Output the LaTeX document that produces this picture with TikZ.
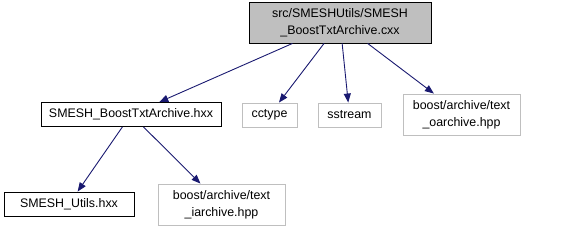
\documentclass[tikz,border=0pt]{standalone}
\usepackage{fontspec}
\setmainfont{Liberation Sans}
\usetikzlibrary{arrows.meta}
\definecolor{kenarKoyu}{HTML}{000000}
\definecolor{kenarAcik}{HTML}{BFBFBF}
\definecolor{dolguGri}{HTML}{BFBFBF}
\definecolor{okMavi}{HTML}{191970}

\begin{document}
\begin{tikzpicture}[x=1pt,y=-1pt,
  dosya/.style={draw=kenarKoyu,line width=0.9pt,inner sep=0pt,align=center,
               font=\fontsize{12.4}{16.6}\selectfont,minimum height=24pt},
  sistem/.style={dosya,draw=kenarAcik},
  ok/.style={-{Triangle[length=9pt,width=7pt]},line width=0.9pt,okMavi}]
\useasboundingbox (0,0) rectangle (580,231);
\node[dosya,fill=dolguGri,minimum width=182pt,minimum height=41pt] (kaynak) at (340,22.5)
  {src/SMESHUtils/SMESH\\ \_BoostTxtArchive.cxx};
\node[dosya,minimum width=180pt] (arsiv) at (131,114.5) {SMESH\_BoostTxtArchive.hxx};
\node[sistem,minimum width=55pt] (cctype) at (269.5,115) {cctype};
\node[sistem,minimum width=63pt] (sstream) at (349.5,115) {sstream};
\node[sistem,minimum width=117pt,minimum height=41pt] (oarsiv) at (461.5,114.5)
  {boost/archive/text\\ \_oarchive.hpp};
\node[dosya,minimum width=130pt] (araclar) at (69,204) {SMESH\_Utils.hxx};
\node[sistem,minimum width=127pt,minimum height=41pt] (iarsiv) at (221.5,204.5)
  {boost/archive/text\\ \_iarchive.hpp};
\draw[ok] (kaynak) -- (arsiv);
\draw[ok] (kaynak) -- (cctype);
\draw[ok] (kaynak) -- (sstream);
\draw[ok] (kaynak) -- (oarsiv);
\draw[ok] (arsiv) -- (araclar);
\draw[ok] (arsiv) -- (iarsiv);
\end{tikzpicture}
\end{document}
